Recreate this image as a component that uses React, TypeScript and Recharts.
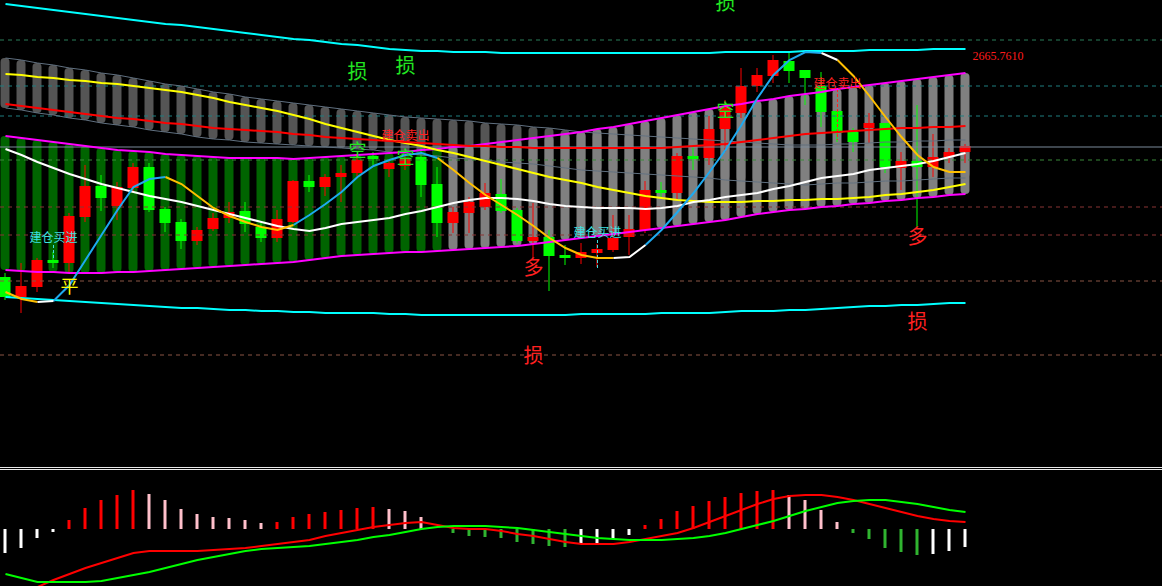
import React from 'react';
import { ComposedChart, Bar, Line, XAxis, YAxis, ReferenceLine, ReferenceDot, Cell } from 'recharts';

const W = 1162;
const MAIN_H = 466;
const MACD_H = 116;
const X_DOMAIN: [number, number] = [-0.34375, 72.28125];

// candles
const opens = [2443,2423,2433,2460,2457,2503,2534,2514,2532,2553,2511,2498,2479,2491,2502,2509,2493,2482,2498,2539,2533,2543,2547,2564,2551,2554,2563,2536,2497,2507,2513,2526,2510,2479,2483,2465,2462,2467,2470,2483,2490,2530,2527,2564,2562,2591,2607,2634,2644,2659,2650,2634,2609,2588,2592,2597,2552,2559,2553,2563,2568];
const closes = [2423,2434,2460,2457,2504,2534,2522,2533,2553,2510,2497,2479,2490,2502,2508,2496,2482,2501,2539,2533,2543,2547,2560,2561,2557,2561,2535,2497,2508,2518,2527,2509,2479,2483,2464,2462,2468,2471,2482,2491,2530,2527,2564,2561,2591,2613,2634,2645,2660,2649,2642,2608,2587,2578,2597,2553,2559,2553,2563,2568,2574];
const highs = [2447,2457,2462,2468,2507,2555,2545,2538,2557,2557,2513,2501,2493,2507,2518,2518,2497,2510,2540,2545,2546,2555,2565,2568,2560,2570,2573,2553,2513,2523,2537,2541,2512,2517,2490,2475,2477,2476,2505,2505,2539,2538,2567,2573,2604,2620,2652,2652,2665,2667,2650,2648,2609,2592,2607,2597,2568,2615,2586,2572,2576];
const lows = [2420,2407,2428,2452,2448,2498,2509,2500,2527,2508,2488,2471,2475,2489,2497,2488,2478,2478,2497,2528,2524,2518,2544,2555,2543,2550,2523,2483,2487,2487,2510,2507,2477,2462,2429,2455,2456,2453,2468,2465,2487,2522,2521,2550,2555,2568,2602,2628,2637,2637,2615,2593,2578,2568,2577,2547,2530,2493,2543,2557,2557];

// outer channel (cyan)
const cyanUpper = [2716,2714,2712,2710,2708,2706,2704,2702,2700,2698,2696,2695,2693,2691,2689,2687,2685,2683,2681,2680,2678,2676,2675,2673,2671,2670,2669,2669,2668,2668,2668,2667,2667,2667,2667,2667,2667,2667,2667,2667,2667,2667,2667,2667,2667,2668,2668,2668,2668,2668,2669,2669,2669,2669,2670,2670,2670,2670,2671,2671,2671];
const cyanLower = [2423,2422,2421,2420,2419,2418,2417,2416,2415,2414,2413,2412,2412,2411,2410,2410,2409,2409,2408,2408,2407,2407,2407,2407,2406,2406,2405,2405,2405,2405,2405,2405,2405,2405,2405,2405,2406,2406,2406,2406,2406,2407,2407,2407,2407,2408,2409,2409,2409,2410,2410,2411,2412,2413,2414,2414,2415,2415,2416,2417,2417];

// thin channel (dark columns)
const thinUpper = [2662,2660,2657,2655,2652,2650,2647,2645,2642,2639,2636,2634,2631,2628,2626,2623,2621,2619,2617,2615,2613,2611,2609,2607,2605,2603,2602,2601,2600,2599,2597,2596,2595,2593,2592,2590,2588,2587,2586,2585,2584,2583,2582,2581,2580,2579,2578,2577,2576,2575,2575,2575,2576,2576,2577,2578,2578,2579,2579,2580,2580];
const thinLower = [2612,2610,2607,2605,2602,2600,2597,2595,2593,2590,2588,2586,2583,2581,2580,2578,2577,2576,2575,2574,2573,2572,2571,2570,2568,2567,2565,2564,2562,2561,2560,2558,2557,2556,2554,2552,2550,2549,2548,2547,2546,2545,2544,2543,2542,2540,2539,2538,2537,2536,2535,2536,2537,2537,2538,2539,2539,2540,2541,2542,2542];

// magenta channel (green / gray columns)
const magUpper = [2584,2582,2580,2578,2576,2574,2572,2570,2569,2568,2566,2565,2564,2563,2562,2562,2562,2562,2561,2562,2563,2564,2565,2566,2567,2568,2570,2571,2573,2574,2576,2578,2580,2582,2584,2586,2588,2591,2593,2596,2599,2602,2605,2608,2611,2614,2616,2619,2621,2624,2626,2628,2631,2633,2635,2637,2639,2641,2643,2645,2647];
const magLower = [2450,2449,2448,2448,2447,2447,2447,2448,2448,2449,2450,2451,2452,2453,2454,2455,2456,2457,2458,2460,2462,2464,2465,2466,2467,2468,2468,2469,2470,2471,2472,2473,2474,2476,2478,2480,2482,2484,2486,2488,2490,2492,2494,2496,2498,2500,2503,2506,2508,2510,2511,2513,2514,2516,2517,2519,2520,2522,2523,2525,2526];
const BAND_UP_FROM = 28;

// moving averages
const yellowMa = [2646,2645,2643,2642,2640,2639,2637,2636,2634,2632,2630,2628,2625,2622,2618,2615,2612,2609,2605,2601,2596,2592,2588,2584,2580,2577,2574,2570,2567,2563,2559,2555,2551,2547,2543,2540,2537,2533,2530,2527,2524,2522,2520,2519,2518,2518,2518,2519,2519,2520,2520,2521,2521,2522,2523,2525,2526,2528,2530,2533,2536];
const redMa = [2616,2614,2612,2610,2608,2606,2604,2602,2601,2599,2597,2596,2594,2592,2591,2590,2589,2588,2586,2585,2583,2582,2581,2580,2579,2578,2577,2576,2575,2574,2574,2573,2573,2572,2572,2572,2572,2572,2572,2572,2572,2572,2573,2574,2575,2576,2578,2580,2582,2584,2586,2587,2588,2589,2590,2591,2592,2592,2593,2593,2594];
const whiteMa = [2571,2565,2558,2552,2546,2541,2536,2532,2528,2524,2521,2518,2514,2510,2506,2502,2498,2494,2491,2489,2492,2496,2498,2500,2502,2506,2509,2513,2517,2520,2522,2522,2521,2519,2516,2514,2513,2512,2512,2512,2511,2512,2514,2518,2520,2523,2525,2527,2531,2534,2538,2542,2544,2546,2550,2552,2554,2556,2559,2563,2567];

// fast line, coloured by segment: u = rising, d = falling, f = flat
const fastLine = [2428,2421,2418,2419,2435,2460,2485,2510,2533,2541,2543,2536,2524,2512,2504,2498,2493,2490,2495,2505,2516,2528,2543,2554,2560,2565,2567,2562,2550,2537,2525,2515,2505,2494,2482,2472,2465,2462,2462,2463,2475,2490,2508,2527,2548,2570,2595,2622,2645,2660,2668,2667,2660,2644,2624,2603,2583,2565,2553,2548,2548];
const fastTrend = 'ddfuuuuuuudddddddduuuuuuuuudddddddddddffuuuuuuuuuuufddddddddf'.split('');

// MACD
const macdHist = [-24,-19,-9,-3,9,21,29,34,39,35,29,20,15,12,11,9,6,7,12,15,17,19,21,22,20,18,12,0,-4,-7,-8,-9,-13,-15,-17,-18,-15,-14,-10,-6,4,10,18,23,28,32,36,38,39,34,29,19,7,-4,-10,-19,-23,-26,-25,-22,-18];
const macdDif = [-71,-65,-58,-51,-45,-39,-34,-29,-24,-22,-22,-22,-22,-21,-20,-19,-17,-15,-13,-11,-7,-4,-1,2,4,6,7,4,1,0,0,-2,-5,-7,-10,-13,-15,-15,-15,-13,-10,-7,-4,1,7,13,19,25,30,33,34,34,32,29,25,21,17,13,10,8,7];
const macdDea = [-45,-49,-53,-53,-53,-53,-52,-49,-46,-43,-39,-35,-31,-28,-25,-22,-20,-19,-18,-17,-15,-13,-11,-8,-6,-3,0,2,3,3,3,2,1,-1,-3,-5,-7,-9,-10,-11,-11,-11,-10,-9,-7,-4,0,4,8,13,18,22,26,28,29,29,27,25,22,19,17];

// levels and annotations
const dashLevels = [2680, 2634, 2604, 2560, 2513, 2485, 2439, 2365];
const dashColors = ['#2a7f5a', '#1f7f80', '#1f7f80', '#3a8a3a', '#8a3434', '#8a3434', '#8a5444', '#8a5444'];
const lastPriceLevel = 2573;

const notes = [
  { i: 22, p: 2648, text: '损', color: '#22e622', size: 20 },
  { i: 25, p: 2654, text: '损', color: '#22e622', size: 20 },
  { i: 45, p: 2717, text: '损', color: '#22e622', size: 20 },
  { i: 22, p: 2569, text: '空', color: '#22e622', size: 18 },
  { i: 25, p: 2562, text: '空', color: '#22e622', size: 18 },
  { i: 45, p: 2609, text: '空', color: '#22e622', size: 18 },
  { i: 33, p: 2452, text: '多', color: '#ff2020', size: 20 },
  { i: 57, p: 2483, text: '多', color: '#ff2020', size: 20 },
  { i: 33, p: 2364, text: '损', color: '#ff2020', size: 20 },
  { i: 57, p: 2398, text: '损', color: '#ff2020', size: 20 },
  { i: 4, p: 2433, text: '平', color: '#ffff00', size: 18 },
  { i: 3, p: 2482, text: '建仓买进', color: '#3ee0e0', size: 12 },
  { i: 37, p: 2487, text: '建仓买进', color: '#3ee0e0', size: 12 },
  { i: 25, p: 2584, text: '建仓卖出', color: '#ff2020', size: 12 },
  { i: 52, p: 2636, text: '建仓卖出', color: '#ff2020', size: 12 },
];
const markers = [
  { i: 3, from: 2475, to: 2462, color: '#3ee0e0' },
  { i: 37, from: 2480, to: 2452, color: '#3ee0e0' },
  { i: 52, from: 2631, to: 2580, color: '#ff2020' },
];
const priceTag = { i: 60, p: 2664, text: '2665.7610' };

const rows = opens.map((o, i) => ({
  i,
  open: o,
  close: closes[i],
  high: highs[i],
  low: lows[i],
  cu: cyanUpper[i],
  cl: cyanLower[i],
  tu: thinUpper[i],
  tl: thinLower[i],
  mu: magUpper[i],
  ml: magLower[i],
  y: yellowMa[i],
  r: redMa[i],
  w: whiteMa[i],
  fu: fastTrend[i] === 'u' || fastTrend[i - 1] === 'u' ? fastLine[i] : null,
  fd: fastTrend[i] === 'd' || fastTrend[i - 1] === 'd' ? fastLine[i] : null,
  ff: fastTrend[i] === 'f' || fastTrend[i - 1] === 'f' ? fastLine[i] : null,
}));

const macdRows = macdHist.map((h, i) => ({ i, h, dif: macdDif[i], dea: macdDea[i] }));

const histColor = (i: number) => {
  const v = macdHist[i];
  const prev = i > 0 ? macdHist[i - 1] : undefined;
  if (v > 0) return prev === undefined || v >= prev ? '#ff0000' : '#ffc0cb';
  if (v < 0) return prev !== undefined && v <= prev ? '#30b430' : '#ffffff';
  return 'transparent';
};

const Candle = (props: any) => {
  const { x, y, width, height, payload } = props;
  if (!payload || height <= 0) return null;
  const { open, close, high, low } = payload;
  const color = close >= open ? '#ff0000' : '#00ff00';
  const k = height / (high - low);
  const top = y + (high - Math.max(open, close)) * k;
  const bodyH = Math.max(2, Math.abs(open - close) * k);
  const cx = x + width / 2;
  return (
    <g>
      <line x1={cx} x2={cx} y1={y} y2={y + height} stroke={color} strokeWidth={1} />
      <rect x={x} y={top} width={width} height={bodyH} fill={color} />
    </g>
  );
};

const lineProps = { dot: false, activeDot: false, isAnimationActive: false, type: 'linear' as const, xAxisId: 0 };

export default function App() {
  return (
    <div
      style={{
        position: 'absolute',
        left: 0,
        top: 0,
        width: W,
        height: 586,
        background: '#000',
        overflow: 'hidden',
        fontFamily: '"Noto Sans CJK SC", "Noto Sans", sans-serif',
      }}
    >
      <ComposedChart width={W} height={MAIN_H} data={rows} margin={{ top: 0, right: 0, bottom: 0, left: 0 }}>
        <XAxis xAxisId={0} type="number" dataKey="i" domain={X_DOMAIN} allowDataOverflow hide />
        <XAxis xAxisId={1} type="number" dataKey="i" domain={X_DOMAIN} allowDataOverflow hide />
        <XAxis xAxisId={2} type="number" dataKey="i" domain={X_DOMAIN} allowDataOverflow hide />
        <YAxis type="number" domain={[2254, 2720]} allowDataOverflow hide />

        <Bar xAxisId={1} dataKey={(d: any) => [d.tl, d.tu]} barSize={9} radius={4} fill="#555555" isAnimationActive={false} />
        <Bar xAxisId={2} dataKey={(d: any) => [d.ml, d.mu]} barSize={9} radius={4} isAnimationActive={false}>
          {rows.map((d) => (
            <Cell key={`band-${d.i}`} fill={d.i < BAND_UP_FROM ? '#006400' : '#808080'} />
          ))}
        </Bar>

        {dashLevels.map((lv, k) => (
          <ReferenceLine key={`lv-${k}`} y={lv} stroke={dashColors[k]} strokeDasharray="4 4" strokeWidth={1} />
        ))}
        <ReferenceLine y={lastPriceLevel} stroke="#7a8a9a" strokeWidth={1} />

        <Line {...lineProps} dataKey="tu" stroke="#607080" strokeWidth={1} />
        <Line {...lineProps} dataKey="tl" stroke="#607080" strokeWidth={1} />

        <Bar xAxisId={0} dataKey={(d: any) => [d.low, d.high]} barSize={11} isAnimationActive={false} shape={(p: any) => <Candle {...p} />} />

        {markers.map((m, k) => (
          <ReferenceLine
            key={`mk-${k}`}
            segment={[{ x: m.i, y: m.from }, { x: m.i, y: m.to }]}
            stroke={m.color}
            strokeDasharray="3 2"
            strokeWidth={1}
          />
        ))}

        <Line {...lineProps} dataKey="cu" stroke="#00ffff" strokeWidth={2} />
        <Line {...lineProps} dataKey="cl" stroke="#00ffff" strokeWidth={2} />
        <Line {...lineProps} dataKey="mu" stroke="#ff00ff" strokeWidth={2} />
        <Line {...lineProps} dataKey="ml" stroke="#ff00ff" strokeWidth={2} />
        <Line {...lineProps} dataKey="y" stroke="#ffff00" strokeWidth={2} />
        <Line {...lineProps} dataKey="r" stroke="#ff0000" strokeWidth={2} />
        <Line {...lineProps} dataKey="w" stroke="#ffffff" strokeWidth={2} />
        <Line {...lineProps} dataKey="fu" stroke="#1eaaf0" strokeWidth={2} connectNulls={false} />
        <Line {...lineProps} dataKey="fd" stroke="#ffc000" strokeWidth={2} connectNulls={false} />
        <Line {...lineProps} dataKey="ff" stroke="#ffffff" strokeWidth={2} connectNulls={false} />

        {notes.map((n, k) => (
          <ReferenceDot
            key={`note-${k}`}
            x={n.i}
            y={n.p}
            r={1}
            fill="none"
            stroke="none"
            ifOverflow="visible"
            label={{ value: n.text, fill: n.color, fontSize: n.size, position: 'center' }}
          />
        ))}
        <ReferenceDot
          x={priceTag.i}
          y={priceTag.p}
          r={1}
          fill="none"
          stroke="none"
          label={{ value: priceTag.text, fill: '#ff1a1a', fontSize: 12, position: 'right', offset: 6, fontFamily: '"Liberation Serif", serif' }}
        />
      </ComposedChart>

      <div style={{ position: 'absolute', left: 0, top: 467, width: W, height: 1, background: '#e8e8e8' }} />
      <div style={{ position: 'absolute', left: 0, top: 469, width: W, height: 1, background: '#e8e8e8' }} />

      <div style={{ position: 'absolute', left: 0, top: 470 }}>
        <ComposedChart width={W} height={MACD_H} data={macdRows} margin={{ top: 0, right: 0, bottom: 0, left: 0 }}>
          <XAxis type="number" dataKey="i" domain={X_DOMAIN} allowDataOverflow hide />
          <YAxis type="number" domain={[-57, 59]} allowDataOverflow hide />
          <Bar dataKey="h" barSize={3} isAnimationActive={false}>
            {macdRows.map((d) => (
              <Cell key={`h-${d.i}`} fill={histColor(d.i)} />
            ))}
          </Bar>
          <Line dataKey="dif" type="linear" dot={false} activeDot={false} stroke="#ff0000" strokeWidth={2} isAnimationActive={false} />
          <Line dataKey="dea" type="linear" dot={false} activeDot={false} stroke="#00ff00" strokeWidth={2} isAnimationActive={false} />
        </ComposedChart>
      </div>
    </div>
  );
}
